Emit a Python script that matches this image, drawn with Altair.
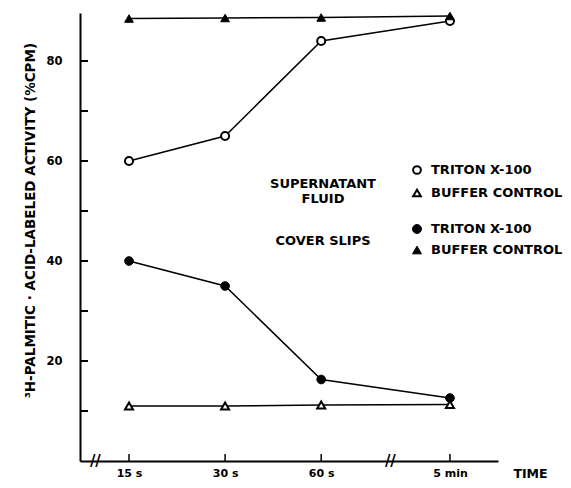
import altair as alt
import pandas as pd

# ---- data ----
times = ["15 s", "30 s", "60 s", "5 min"]
time_pos = [1, 2, 3, 4.34]          # broken axis: 5 min sits after the break
sup_triton = [60, 65, 84, 88]        # supernatant fluid, Triton X-100 (open circle)
sup_buffer = [11, 11, 11.2, 11.3]    # supernatant fluid, buffer control (open triangle)
cov_triton = [40, 35, 16.3, 12.6]    # cover slips, Triton X-100 (filled circle)
cov_buffer = [88.5, 88.6, 88.7, 89.0]  # cover slips, buffer control (filled triangle)
y_tick_vals = [10, 20, 30, 40, 50, 60, 70, 80]
y_label_vals = [20, 40, 60, 80]
break_pos = [0.65, 3.72]

FONT = "DejaVu Sans"
W, H = 418, 448

series = [
    ("sup_triton", sup_triton, "circle", False),
    ("sup_buffer", sup_buffer, "triangle-up", False),
    ("cov_triton", cov_triton, "circle", True),
    ("cov_buffer", cov_buffer, "triangle-up", True),
]

rows = []
for name, vals, shape, filled in series:
    for t, p, v in zip(times, time_pos, vals):
        rows.append({"series": name, "time": t, "pos": p, "value": v})
df = pd.DataFrame(rows)

label_expr = " : ".join(
    f"datum.value == {p} ? '{t}'" for t, p in zip(times, time_pos)
) + " : ''"

xscale = alt.Scale(domain=[0.49, 4.84], nice=False, zero=False)
yscale = alt.Scale(domain=[0, 89.6], nice=False, zero=True)

x_enc = alt.X(
    "pos:Q", scale=xscale,
    axis=alt.Axis(
        values=time_pos, labelExpr=label_expr, grid=False, ticks=False, tickSize=0,
        domainColor="black", domainWidth=2, labelFont=FONT, labelFontSize=11,
        labelFontWeight="bold", labelColor="black", labelPadding=6,
        title="TIME", titleFont=FONT, titleFontSize=12.5, titleFontWeight="bold",
        titleColor="black", titleX=450, titleY=12, titleAlign="center",
        titleBaseline="middle", labelFlush=False,
    ),
)
y_enc = alt.Y(
    "value:Q", scale=yscale,
    axis=alt.Axis(
        values=y_label_vals, grid=False, ticks=False, tickSize=0,
        domainColor="black", domainWidth=2, labelFont=FONT, labelFontSize=11.5,
        labelFontWeight="bold", labelColor="black", labelPadding=18,
        title="³H-PALMITIC · ACID-LABELED ACTIVITY (%CPM)", titleFont=FONT,
        titleFontSize=13.5, titleFontWeight="bold", titleColor="black",
        titleAngle=-90, titleX=-50, titleY=207, titleAlign="center",
        titleBaseline="middle",
    ),
)

base = alt.Chart(df)
layers = []
for name, vals, shape, filled in series:
    sub = base.transform_filter(alt.datum.series == name)
    layers.append(sub.mark_line(color="black", strokeWidth=1.5).encode(x=x_enc, y=y_enc))
for name, vals, shape, filled in series:
    sub = base.transform_filter(alt.datum.series == name)
    if filled:
        m = sub.mark_point(shape=shape, filled=True, fill="black", stroke="black",
                           strokeWidth=1, size=75, opacity=1)
    else:
        m = sub.mark_point(shape=shape, filled=True, fill="white", stroke="black",
                           strokeWidth=2, size=65, opacity=1)
    layers.append(m.encode(x=x_enc, y=y_enc))

# inward axis ticks
ytick_df = pd.DataFrame({"value": y_tick_vals})
layers.append(
    alt.Chart(ytick_df).mark_rule(color="black", strokeWidth=2).encode(
        y=y_enc, x=alt.value(0), x2=alt.value(8)
    )
)
xtick_df = pd.DataFrame({"pos": time_pos})
layers.append(
    alt.Chart(xtick_df).mark_rule(color="black", strokeWidth=1.5).encode(
        x=x_enc, y=alt.value(H), y2=alt.value(H - 7)
    )
)
# axis break marks
brk_df = pd.DataFrame({"pos": break_pos})
layers.append(
    alt.Chart(brk_df).mark_text(text="//", font=FONT, fontSize=15, fontWeight="bold",
                                color="black", baseline="middle", align="center").encode(
        x=x_enc, y=alt.value(H)
    )
)

# manual legend / annotations
LEG_FS = 13

def txt(s, x, y, align="center"):
    return alt.Chart(pd.DataFrame({"t": [s]})).mark_text(
        font=FONT, fontSize=LEG_FS, fontWeight="bold", color="black",
        align=align, baseline="middle").encode(
        text="t:N", x=alt.value(x), y=alt.value(y))

def sym(shape, filled, x, y):
    if filled:
        mk = alt.Chart(pd.DataFrame({"a": [0]})).mark_point(
            shape=shape, filled=True, fill="black", stroke="black", strokeWidth=1,
            size=80, opacity=1)
    else:
        mk = alt.Chart(pd.DataFrame({"a": [0]})).mark_point(
            shape=shape, filled=True, fill="white", stroke="black", strokeWidth=2,
            size=60, opacity=1)
    return mk.encode(x=alt.value(x), y=alt.value(y))

layers += [
    txt("SUPERNATANT", 243, 171),
    txt("FLUID", 243, 186),
    txt("COVER  SLIPS", 243, 228),
    sym("circle", False, 337, 157), txt("TRITON X-100", 351, 157, "left"),
    sym("triangle-up", False, 337, 180), txt("BUFFER CONTROL", 351, 180, "left"),
    sym("circle", True, 337, 216), txt("TRITON X-100", 351, 216, "left"),
    sym("triangle-up", True, 337, 237), txt("BUFFER CONTROL", 351, 237, "left"),
]

chart = alt.layer(*layers).properties(
    width=W, height=H, autosize="none",
    padding={"left": 72, "top": 5, "right": 65, "bottom": 19},
).configure(background="white").configure_view(stroke="transparent", strokeWidth=0)

chart.save("out.html", embed_options={"renderer": "svg", "actions": False})
